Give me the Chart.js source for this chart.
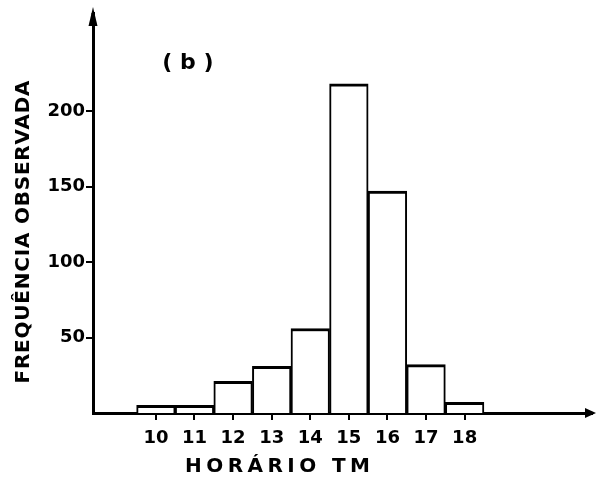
<!DOCTYPE html>
<html><head><meta charset="utf-8">
<script src="https://cdn.jsdelivr.net/npm/chart.js@4/dist/chart.umd.min.js"></script>
<style>html,body{margin:0;padding:0;background:#fff}</style>
</head><body>
<canvas id="c" width="597" height="482"></canvas>
<script>
// ---- data ----
const hours = [10, 11, 12, 13, 14, 15, 16, 17, 18];
const frequencies = [5, 5, 21, 31, 56, 218, 147, 32, 7];
const xTickValues = [10, 11, 12, 13, 14, 15, 16, 17, 18];
const yTickValues = [50, 100, 150, 200];
const panelLabel = '( b )';
const xTitle = 'HORÁRIO TM';
const yTitle = 'FREQUÊNCIA OBSERVADA';

const FONT = "'DejaVu Sans', sans-serif";

function spacedText(ctx, text, targetWidth) {
  ctx.letterSpacing = '0px';
  const w = ctx.measureText(text).width;
  const n = [...text].length;
  const sp = Math.max(0, (targetWidth - w) / (n - 1));
  ctx.letterSpacing = sp + 'px';
  return sp;
}

const decorations = {
  id: 'decorations',
  afterDraw(chart) {
    const ctx = chart.ctx;
    const a = chart.chartArea;
    const xs = chart.scales.x, ys = chart.scales.y;
    ctx.save();
    ctx.fillStyle = '#000';
    ctx.strokeStyle = '#000';
    // y axis extension + arrowhead
    ctx.lineWidth = 3;
    ctx.beginPath();
    ctx.moveTo(a.left, a.top);
    ctx.lineTo(a.left, 20);
    ctx.stroke();
    ctx.beginPath();
    ctx.moveTo(a.left, 7);
    ctx.lineTo(a.left - 4.5, 26);
    ctx.lineTo(a.left + 4.5, 26);
    ctx.closePath();
    ctx.fill();
    // x axis arrowhead
    const y0 = ys.getPixelForValue(0);
    ctx.beginPath();
    ctx.moveTo(596, y0);
    ctx.lineTo(585, y0 - 5);
    ctx.lineTo(585, y0 + 5);
    ctx.closePath();
    ctx.fill();

    // panel label
    ctx.font = 'bold 22px ' + FONT;
    ctx.textAlign = 'center';
    ctx.textBaseline = 'middle';
    ctx.letterSpacing = '0px';
    ctx.fillText(panelLabel, xs.getPixelForValue(10.83), ys.getPixelForValue(232));

    // x title
    ctx.font = 'bold 20px ' + FONT;
    ctx.textAlign = 'left';
    spacedText(ctx, xTitle, 185);
    ctx.fillText(xTitle, 185, 467);

    // y title (rotated)
    ctx.save();
    ctx.translate(24, 232);
    ctx.rotate(-Math.PI / 2);
    ctx.font = 'bold 20px ' + FONT;
    spacedText(ctx, yTitle, 303);
    ctx.textAlign = 'left';
    ctx.fillText(yTitle, -151.5, 0);
    ctx.restore();
    ctx.restore();
  }
};

new Chart(document.getElementById('c'), {
  type: 'bar',
  data: {
    datasets: [{
      data: hours.map((h, i) => ({ x: h, y: frequencies[i] })),
      backgroundColor: '#fff',
      borderColor: '#000',
      borderWidth: { top: 3, left: 2, right: 2, bottom: 0 },
      barPercentage: 1,
      categoryPercentage: 1
    }]
  },
  options: {
    responsive: false,
    animation: false,
    layout: { padding: { top: 13, right: 5, left: 0, bottom: 0 } },
    plugins: { legend: { display: false }, tooltip: { enabled: false } },
    scales: {
      x: {
        type: 'linear',
        offset: false,
        min: 8.37,
        max: 21.3,
        afterBuildTicks: s => { s.ticks = xTickValues.map(v => ({ value: v })); },
        afterFit: s => { s.height = 69; },
        ticks: { color: '#000', font: { family: FONT, size: 18, weight: 'bold' }, padding: 8, autoSkip: false, maxRotation: 0 },
        grid: { offset: false, drawOnChartArea: false, drawTicks: true, tickLength: 7, color: '#000', lineWidth: 2 },
        border: { color: '#000', width: 3 }
      },
      y: {
        min: 0,
        max: 265,
        afterBuildTicks: s => { s.ticks = yTickValues.map(v => ({ value: v })); },
        afterFit: s => { s.width = 93; },
        ticks: { color: '#000', font: { family: FONT, size: 18, weight: 'bold' }, padding: 1 },
        grid: { drawOnChartArea: false, drawTicks: true, tickLength: 7, color: '#000', lineWidth: 2 },
        border: { color: '#000', width: 3 }
      }
    }
  },
  plugins: [decorations]
});
</script>
</body></html>
